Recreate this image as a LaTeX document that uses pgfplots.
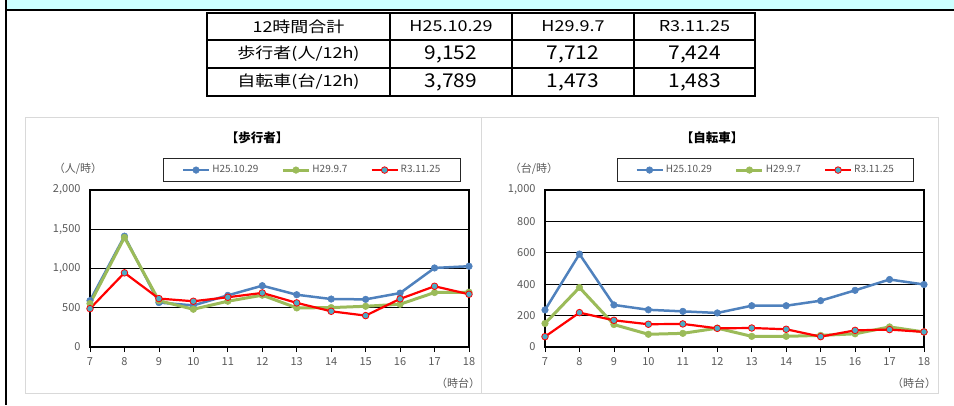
\documentclass[border=0pt]{standalone}
\usepackage{fontspec}
\setmainfont{Noto Sans CJK JP}
\newfontfamily\tabfont[FakeStretch=1.2]{Noto Sans CJK JP}
\newfontfamily\numfont[FakeStretch=1.1]{Noto Sans CJK JP}
\usepackage{pgfplots}
\pgfplotsset{compat=1.18}
\usepackage{pgfplotstable}

\definecolor{blueS}{HTML}{4F81BD}
\definecolor{greenS}{HTML}{9BBB59}
\definecolor{redS}{HTML}{FF0000}
\definecolor{tealM}{HTML}{4BACC6}
\definecolor{tickgray}{HTML}{595959}
\definecolor{panelgray}{HTML}{D9D9D9}
\definecolor{bandcyan}{HTML}{CCFFFF}

% 歩行者 (人/時)
\pgfplotstableread{
h  a     b     c
7  590   553   489
8  1412  1396  945
9  566   590   617
10 530   481   583
11 658   583   634
12 781   660   689
13 666   498   562
14 611   502   455
15 607   519   400
16 687   545   613
17 1007  694   774
18 1029  698   672
}\walkdata

% 自転車 (台/時)
\pgfplotstableread{
h  a    b    c
7  236  150  66
8  592  379  219
9  268  143  170
10 237  81   145
11 227  87   147
12 217  120  119
13 263  68   121
14 263  68   113
15 295  74   66
16 361  84   106
17 430  128  111
18 398  96   96
}\bikedata

\pgfplotsset{
  myax/.style={
    scale only axis, width=379pt, height=157pt,
    xmin=7, xmax=18, ymin=0,
    xtick={7,8,...,18},
    axis line style={black, line width=1.1pt},
    ymajorgrids, major grid style={black, line width=0.8pt},
    tick label style={font=\fontsize{11}{11}\selectfont, text=tickgray},
    /pgf/number format/assume math mode=true,
    /pgf/number format/1000 sep={,},
    xtick align=outside, xtick pos=bottom, ytick pos=left,
    ytick style={draw=none},
    xtick style={black, line width=0.8pt},
    major tick length=5pt,
    yticklabel style={xshift=-6pt},
    xticklabel style={yshift=-2pt},
    legend columns=3,
    legend style={anchor=center, draw=black!85, line width=1pt, fill=white,
      font=\fontsize{10}{10}\selectfont, text=tickgray,
      inner xsep=18pt, inner ysep=5pt,
      /tikz/every even column/.append style={column sep=21pt}},
    legend image code/.code={\draw[mark repeat=2,mark phase=2] plot coordinates {(0pt,0pt) (13pt,0pt) (26pt,0pt)};},
    sA/.style={blueS, line width=2.5pt, mark=*, mark size=3.3pt, mark options={solid, fill=blueS, draw=blueS, line width=0.5pt}},
    sB/.style={greenS, line width=3pt, mark=*, mark size=3.3pt, mark options={solid, fill=greenS, draw=greenS, line width=0.5pt}},
    sC/.style={redS, line width=2.2pt, mark=*, mark size=3.3pt, mark options={solid, fill=tealM, draw=redS, line width=0.8pt}},
  }
}

\begin{document}
\begin{tikzpicture}
\useasboundingbox (0pt,0pt) rectangle (954pt,-405pt);
% top band
\fill[bandcyan] (7pt,0pt) rectangle (954pt,-9pt);
\draw[black, line width=2pt] (6pt,-10pt) -- (954pt,-10pt);
\draw[black, line width=2pt] (6pt,0pt) -- (6pt,-405pt);

% table
\draw[black, line width=1.3pt] (207pt,-40pt) -- (755pt,-40pt);
\draw[black, line width=1.3pt] (207pt,-68pt) -- (755pt,-68pt);
\draw[black, line width=1.3pt] (390pt,-13pt) -- (390pt,-96pt);
\draw[black, line width=1.3pt] (512pt,-13pt) -- (512pt,-96pt);
\draw[black, line width=1.3pt] (634pt,-13pt) -- (634pt,-96pt);
\draw[black, line width=2pt] (207pt,-13pt) rectangle (755pt,-96pt);
\begin{scope}[every node/.style={inner sep=0pt}]
\node[font=\tabfont\fontsize{15}{15}\selectfont] at (298.5pt,-26.5pt) {12時間合計};
\node[font=\tabfont\fontsize{15}{15}\selectfont] at (451pt,-26.5pt) {H25.10.29};
\node[font=\tabfont\fontsize{15}{15}\selectfont] at (573pt,-26.5pt) {H29.9.7};
\node[font=\tabfont\fontsize{15}{15}\selectfont] at (694.5pt,-26.5pt) {R3.11.25};
\node[font=\tabfont\fontsize{15}{15}\selectfont] at (298.5pt,-54pt) {歩行者(人/12h)};
\node[font=\tabfont\fontsize{15}{15}\selectfont] at (298.5pt,-82pt) {自転車(台/12h)};
\node[font=\numfont\fontsize{19}{19}\selectfont] at (451pt,-54pt) {9,152};
\node[font=\numfont\fontsize{19}{19}\selectfont] at (573pt,-54pt) {7,712};
\node[font=\numfont\fontsize{19}{19}\selectfont] at (694.5pt,-54pt) {7,424};
\node[font=\numfont\fontsize{19}{19}\selectfont] at (451pt,-82pt) {3,789};
\node[font=\numfont\fontsize{19}{19}\selectfont] at (573pt,-82pt) {1,473};
\node[font=\numfont\fontsize{19}{19}\selectfont] at (694.5pt,-82pt) {1,483};
\end{scope}

% panels
\draw[panelgray, line width=0.8pt] (25pt,-117pt) rectangle (481pt,-393pt);
\draw[panelgray, line width=0.8pt] (481pt,-117pt) rectangle (938pt,-393pt);

% titles and unit labels
\node[font=\bfseries\fontsize{12.5}{12.5}\selectfont] at (257pt,-138pt) {【歩行者】};
\node[font=\bfseries\fontsize{12.5}{12.5}\selectfont] at (712pt,-138pt) {【自転車】};
\node[font=\fontsize{11}{11}\selectfont, text=tickgray] at (78pt,-169pt) {（人/時）};
\node[font=\fontsize{11}{11}\selectfont, text=tickgray] at (534pt,-169pt) {（台/時）};
\node[font=\fontsize{11}{11}\selectfont, text=tickgray] at (458pt,-383pt) {（時台）};
\node[font=\fontsize{11}{11}\selectfont, text=tickgray] at (914pt,-383pt) {（時台）};

% left chart
\begin{axis}[myax, at={(90pt,-347pt)}, anchor=south west,
  ymax=2000, ytick={0,500,...,2000},
  legend style={at={(0.586,1.127)}}]
\addplot[sA] table[x=h,y=a]{\walkdata};
\addplot[sB] table[x=h,y=b]{\walkdata};
\addplot[sC] table[x=h,y=c]{\walkdata};
\legend{H25.10.29, H29.9.7, R3.11.25}
\end{axis}

% right chart
\begin{axis}[myax, at={(545pt,-347pt)}, anchor=south west,
  ymax=1000, ytick={0,200,...,1000},
  legend style={at={(0.582,1.127)}}]
\addplot[sA] table[x=h,y=a]{\bikedata};
\addplot[sB] table[x=h,y=b]{\bikedata};
\addplot[sC] table[x=h,y=c]{\bikedata};
\legend{H25.10.29, H29.9.7, R3.11.25}
\end{axis}
\end{tikzpicture}
\end{document}
